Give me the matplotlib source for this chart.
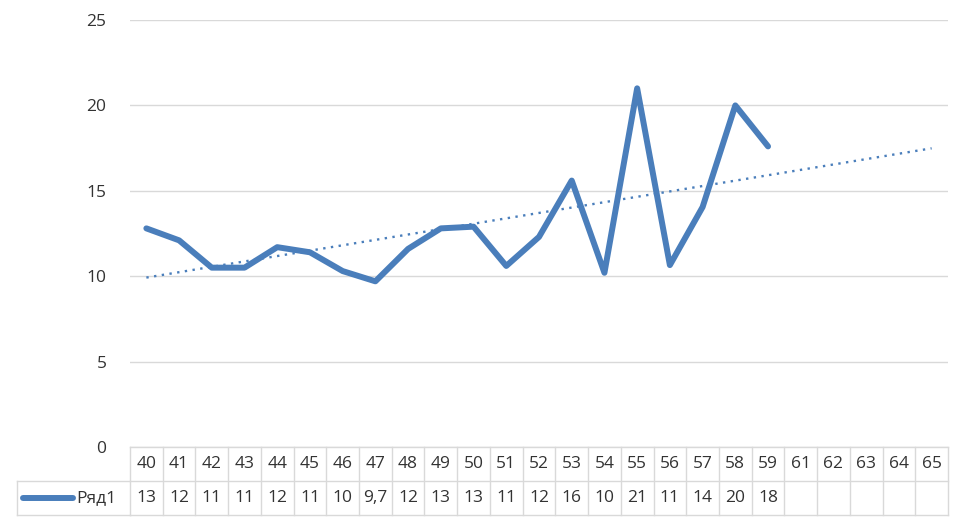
import numpy as np
import matplotlib.pyplot as plt
from matplotlib.transforms import blended_transform_factory

plt.rcParams['font.family'] = ['Open Sans', 'DejaVu Sans']

# categories on the x axis (table header)
categories = ['40', '41', '42', '43', '44', '45', '46', '47', '48', '49', '50',
              '51', '52', '53', '54', '55', '56', '57', '58', '59',
              '61', '62', '63', '64', '65']
# series values
values = [12.8, 12.1, 10.5, 10.5, 11.7, 11.4, 10.3, 9.7, 11.6, 12.8, 12.9,
          10.6, 12.3, 15.6, 10.2, 21.0, 10.65, 14.05, 20.0, 17.6]
# values as printed in the data table
value_labels = ['13', '12', '11', '11', '12', '11', '10', '9,7', '12', '13', '13',
                '11', '12', '16', '10', '21', '11', '14', '20', '18']
series_name = 'Ряд1'
yticks = [0, 5, 10, 15, 20, 25]

blue = '#4A7EBB'
grid = '#D9D9D9'
text_col = '#333333'

fig = plt.figure(figsize=(9.68, 5.27), dpi=100)
ax = fig.add_axes([130 / 968, 1 - 447 / 527, 818 / 968, 427 / 527])

x = np.arange(len(values))
ax.plot(x, values, color=blue, lw=4.3, solid_joinstyle='round',
        solid_capstyle='round', zorder=3)

# linear trendline over the data, extended to all categories
k, b = np.polyfit(x, values, 1)
xt = np.arange(len(categories))
ax.plot(xt, k * xt + b, color=blue, lw=1.7, ls=(0, (1, 2.3)), zorder=2)

ax.set_xlim(-0.5, len(categories) - 0.5)
ax.set_ylim(0, 25)
ax.set_yticks(yticks)
ax.set_yticklabels([str(t) for t in yticks], fontsize=12.5, color=text_col)
ax.set_xticks([])
ax.tick_params(axis='y', length=0, pad=17)
for s in ax.spines.values():
    s.set_visible(False)
ax.grid(axis='y', color=grid, lw=1)
ax.set_axisbelow(True)

# data table below the axes
tr = blended_transform_factory(ax.transData, fig.transFigure)
row_h = 34 / 527
top = 1 - 447 / 527
y1 = top - row_h
y2 = top - 2 * row_h
n = len(categories)
line_kw = dict(color=grid, lw=1, clip_on=False, transform=tr)
ax.plot([-0.5, n - 0.5], [top, top], **line_kw)
ax.plot([-0.5, n - 0.5], [y1, y1], **line_kw)
ax.plot([-0.5, n - 0.5], [y2, y2], **line_kw)
for i in range(n + 1):
    ax.plot([i - 0.5, i - 0.5], [top, y2], **line_kw)
for i, c in enumerate(categories):
    ax.text(i, top - row_h / 2, c, transform=tr, ha='center', va='center',
            fontsize=12.5, color=text_col)
for i, v in enumerate(value_labels):
    ax.text(i, y1 - row_h / 2, v, transform=tr, ha='center', va='center',
            fontsize=12.5, color=text_col)

# legend cell on the left of the value row
fx0, fx1 = 17 / 968, 130 / 968
fig.add_artist(plt.Line2D([fx0, fx1], [y1, y1], color=grid, lw=1))
fig.add_artist(plt.Line2D([fx0, fx1], [y2, y2], color=grid, lw=1))
fig.add_artist(plt.Line2D([fx0, fx0], [y1, y2], color=grid, lw=1))
ym = y1 - row_h / 2
fig.add_artist(plt.Line2D([23 / 968, 73 / 968], [ym, ym], color=blue, lw=4.3,
                          solid_capstyle='round'))
fig.text(76 / 968, ym, series_name, ha='left', va='center', fontsize=12.5,
         color=text_col)

fig.savefig('out.png', dpi=100, facecolor='white')
